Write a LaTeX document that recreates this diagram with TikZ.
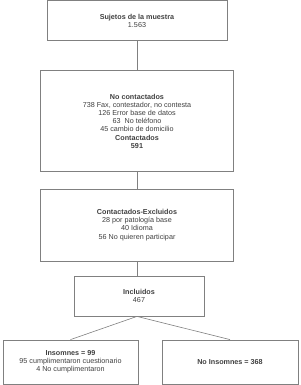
\documentclass[tikz,border=0pt]{standalone}
\usepackage{fontspec}
\setmainfont{Liberation Sans}
\begin{document}
\begin{tikzpicture}[x=1pt,y=-1pt,
  box/.style={draw=black!50, line width=0.8pt, fill=white, inner sep=0pt, align=center,
    text=black!75, font=\fontsize{7.2}{8.1}\selectfont},
  link/.style={draw=black!50, line width=0.6pt}]
\useasboundingbox (0,0) rectangle (300,385);
\node[box, minimum width=180, minimum height=40] (s) at (137,20.8) {\textbf{Sujetos de la muestra}\\1.563};
\node[box, minimum width=193, minimum height=101] (nc) at (137,121.3) {\textbf{No contactados}\\738 Fax, contestador, no contesta\\126 Error base de datos\\63~ No teléfono\\45 cambio de domicilio\\\textbf{Contactados}\\\textbf{591}};
\node[box, minimum width=193, minimum height=72] (ex) at (137,225) {\textbf{Contactados-Excluidos}\\28 por patología base\\40 Idioma\\56 No quieren participar};
\node[box, minimum width=130, minimum height=40] (inc) at (139,296) {\textbf{Incluidos}\\467};
\node[box, minimum width=135, minimum height=44] (ins) at (70.5,362) {\textbf{Insomnes = 99}\\95 cumplimentaron cuestionario\\4 No cumplimentaron};
\node[box, minimum width=136, minimum height=44] (noi) at (230,362) {\textbf{No Insomnes = 368}};
\draw[link] (s.south) -- (nc.north);
\draw[link] (nc.south) -- (ex.north);
\draw[link] (ex.south) -- (ex.south |- inc.north);
\draw[link] (ex.south |- inc.south) -- (ins.north);
\draw[link] (ex.south |- inc.south) -- (noi.north);
\end{tikzpicture}
\end{document}
